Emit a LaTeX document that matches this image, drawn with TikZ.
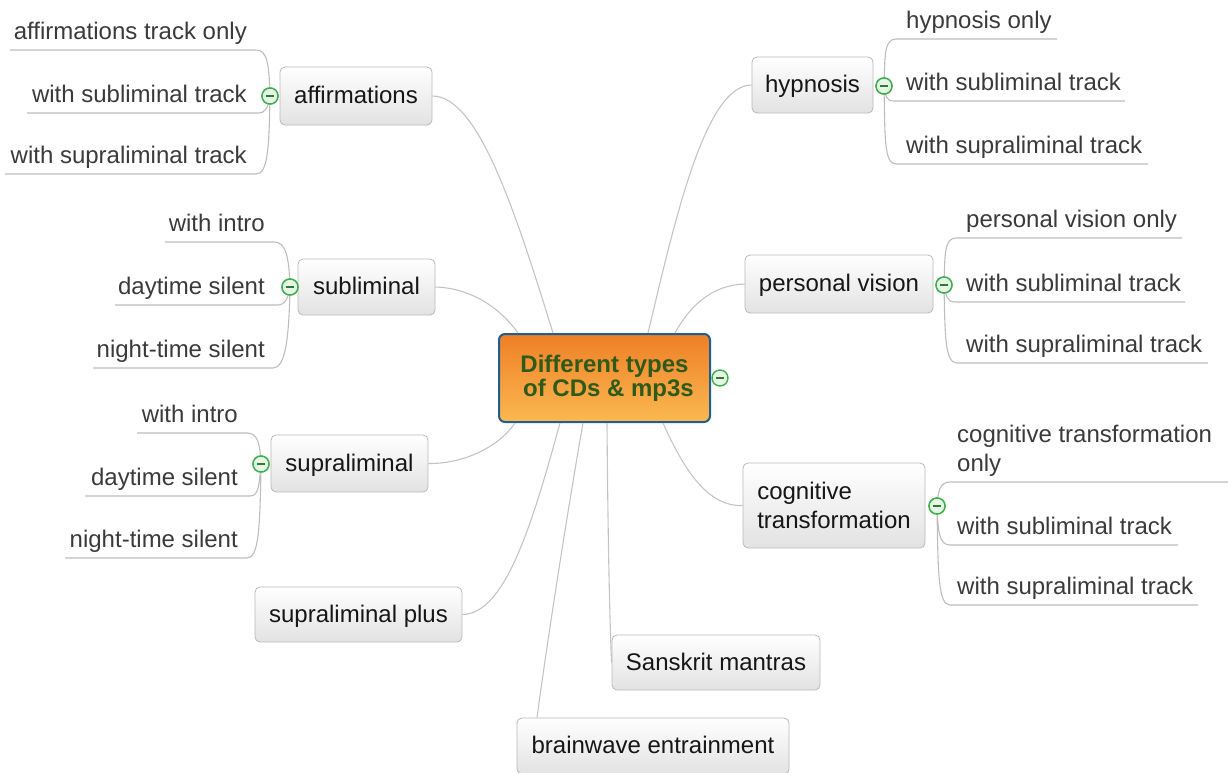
\documentclass[tikz,border=0pt]{standalone}
\usepackage{fontspec}
\setmainfont{Liberation Sans}
\usetikzlibrary{calc}
\definecolor{conncol}{HTML}{C4C4C4}
\definecolor{branchcol}{HTML}{BDBDBD}
\definecolor{topicborder}{HTML}{B9B9B9}
\definecolor{topicbot}{HTML}{E2E2E2}
\definecolor{topictext}{HTML}{161616}
\definecolor{leaftext}{HTML}{3A3A3A}
\definecolor{ctrtop}{HTML}{EF7F26}
\definecolor{ctrbot}{HTML}{FAB850}
\definecolor{ctrborder}{HTML}{1F5E93}
\definecolor{ctrtext}{HTML}{2E5A1A}
\definecolor{togglecol}{HTML}{3DB04A}
\definecolor{togglefill}{HTML}{E6F6E6}
\definecolor{togglebar}{HTML}{2C7A33}
\tikzset{
  topic/.style={draw=topicborder, rounded corners=5pt, top color=white, bottom color=topicbot,
    line width=0.8pt, text=topictext, font=\fontsize{24}{29}\selectfont, inner sep=0pt},
  oneline/.style={text height=18pt, text depth=3pt},
  leaf/.style={text=leaftext, font=\fontsize{24}{29}\selectfont, inner sep=0pt},
  conn/.style={draw=conncol, line width=1.1pt},
  branch/.style={draw=branchcol, line width=1.1pt},
  toggle/.style={circle, draw=togglecol, fill=togglefill, line width=1.4pt, minimum size=16pt, inner sep=0pt,
    path picture={\draw[togglebar, line width=2.4pt] ($(path picture bounding box.center)+(-4,0)$) -- ++(8,0);}},
}
\begin{document}
\begin{tikzpicture}[x=1pt,y=-1pt]
\useasboundingbox (0,0) rectangle (1228,772);
\clip (0,0) rectangle (1228,772);

% ---------- central node ----------
\node[draw=ctrborder, line width=2pt, rounded corners=6pt, top color=ctrtop, bottom color=ctrbot,
  minimum width=211pt, minimum height=88pt, inner sep=0pt, align=center, text=ctrtext,
  font=\fontsize{24}{24}\bfseries] (ctr) at (604.5,378) {Different types\\ \,\,of CDs \& mp3s};

% ---------- topic nodes ----------
\node[topic, oneline, minimum width=152pt, minimum height=58pt] (affir) at (356,96) {affirmations};
\node[topic, oneline, minimum width=137pt, minimum height=56pt] (sub) at (366.5,287) {subliminal};
\node[topic, oneline, minimum width=157pt, minimum height=57pt] (supra) at (349.5,463.5) {supraliminal};
\node[topic, oneline, minimum width=207pt, minimum height=55pt] (plus) at (358.5,614.5) {supraliminal plus};
\node[topic, oneline, minimum width=121pt, minimum height=56pt] (hyp) at (812.5,85) {hypnosis};
\node[topic, oneline, minimum width=188pt, minimum height=58pt] (pv) at (839,284) {personal vision};
\node[topic, minimum width=182pt, minimum height=85pt, align=left] (cog) at (834,505.5) {cognitive\\transformation};
\node[topic, oneline, minimum width=208pt, minimum height=55pt] (sans) at (716,662.5) {Sanskrit mantras};
\node[topic, oneline, minimum width=272pt, minimum height=56pt] (brain) at (653,746) {brainwave entrainment};

% ---------- central connectors ----------
\draw[conn] (ctr.north -| 553,0) .. controls (515,210) and (478,96) .. (affir.east);
\draw[conn] (ctr.north -| 518,0) .. controls (498,305) and (468,288) .. (sub.east);
\draw[conn] (ctr.south -| 515,0) .. controls (498,448) and (462,464) .. (supra.east);
\draw[conn] (ctr.south -| 560,0) .. controls (532,525) and (505,614) .. (plus.east);
\draw[conn] (ctr.south -| 583,0) .. controls (566,520) and (546,650) .. (brain.north -| 537,0);
\draw[conn] (ctr.south -| 607,0) .. controls (608,550) and (610,630) .. (sans.west);
\draw[conn] (ctr.north -| 648,0) .. controls (675,220) and (705,85) .. (hyp.west);
\draw[conn] (ctr.north -| 675,0) .. controls (692,302) and (715,285) .. (pv.west);
\draw[conn] (ctr.south -| 663,0) .. controls (684,470) and (708,507) .. (cog.west);

% ---------- leaves: affirmations ----------
\node[leaf, anchor=base east] (a1) at (247,39) {affirmations track only};
\node[leaf, anchor=base east] (a2) at (247,102) {with subliminal track};
\node[leaf, anchor=base east] (a3) at (247,163) {with supraliminal track};
\coordinate (a1s) at (256,50); \coordinate (a1e) at (10,50);
\coordinate (a2s) at (258,113); \coordinate (a2e) at (27,113);
\coordinate (a3s) at (256,174); \coordinate (a3e) at (5,174);
\node[toggle] (ta) at (270,96) {};
\draw[branch] (ta.center) .. controls +(-1,-30) and +(12,0) .. (a1s) -- (a1e);
\draw[branch] (ta.center) .. controls +(-2,11) and +(8,0) .. (a2s) -- (a2e);
\draw[branch] (ta.center) .. controls +(-1,52) and +(12,0) .. (a3s) -- (a3e);
\node[toggle] at (ta) {};

% ---------- leaves: subliminal ----------
\node[leaf, anchor=base east] (s1) at (265,231) {with intro};
\node[leaf, anchor=base east] (s2) at (265,294) {daytime silent};
\node[leaf, anchor=base east] (s3) at (265,357) {night-time silent};
\coordinate (s1s) at (274,242); \coordinate (s1e) at (165,242);
\coordinate (s2s) at (277,305); \coordinate (s2e) at (115,305);
\coordinate (s3s) at (273,368); \coordinate (s3e) at (93,368);
\node[toggle] (ts) at (290,287) {};
\draw[branch] (ts.center) .. controls +(-1,-30) and +(12,0) .. (s1s) -- (s1e);
\draw[branch] (ts.center) .. controls +(-2,12) and +(8,0) .. (s2s) -- (s2e);
\draw[branch] (ts.center) .. controls +(-1,54) and +(12,0) .. (s3s) -- (s3e);
\node[toggle] at (ts) {};

% ---------- leaves: supraliminal ----------
\node[leaf, anchor=base east] (p1) at (238,422) {with intro};
\node[leaf, anchor=base east] (p2) at (238,485) {daytime silent};
\node[leaf, anchor=base east] (p3) at (238,547) {night-time silent};
\coordinate (p1s) at (247,433); \coordinate (p1e) at (137,433);
\coordinate (p2s) at (250,496); \coordinate (p2e) at (85,496);
\coordinate (p3s) at (247,558); \coordinate (p3e) at (65,558);
\node[toggle] (tp) at (261,464) {};
\draw[branch] (tp.center) .. controls +(-1,-20) and +(11,0) .. (p1s) -- (p1e);
\draw[branch] (tp.center) .. controls +(-2,21) and +(9,0) .. (p2s) -- (p2e);
\draw[branch] (tp.center) .. controls +(-1,63) and +(12,0) .. (p3s) -- (p3e);
\node[toggle] at (tp) {};

% ---------- leaves: hypnosis ----------
\node[leaf, anchor=base west] (h1) at (906,28) {hypnosis only};
\node[leaf, anchor=base west] (h2) at (906,90) {with subliminal track};
\node[leaf, anchor=base west] (h3) at (906,153) {with supraliminal track};
\coordinate (h1s) at (896,39); \coordinate (h1e) at (1057,39);
\coordinate (h2s) at (894,101); \coordinate (h2e) at (1125,101);
\coordinate (h3s) at (896,164); \coordinate (h3e) at (1148,164);
\node[toggle] (th) at (884,86) {};
\draw[branch] (th.center) .. controls +(1,-30) and +(-12,0) .. (h1s) -- (h1e);
\draw[branch] (th.center) .. controls +(2,10) and +(-8,0) .. (h2s) -- (h2e);
\draw[branch] (th.center) .. controls +(1,52) and +(-12,0) .. (h3s) -- (h3e);
\node[toggle] at (th) {};

% ---------- leaves: personal vision ----------
\node[leaf, anchor=base west] (v1) at (966,227) {personal vision only};
\node[leaf, anchor=base west] (v2) at (966,291) {with subliminal track};
\node[leaf, anchor=base west] (v3) at (966,352) {with supraliminal track};
\coordinate (v1s) at (956,238); \coordinate (v1e) at (1182,238);
\coordinate (v2s) at (955,302); \coordinate (v2e) at (1185,302);
\coordinate (v3s) at (957,363); \coordinate (v3e) at (1208,363);
\node[toggle] (tv) at (944,285) {};
\draw[branch] (tv.center) .. controls +(1,-30) and +(-12,0) .. (v1s) -- (v1e);
\draw[branch] (tv.center) .. controls +(2,11) and +(-8,0) .. (v2s) -- (v2e);
\draw[branch] (tv.center) .. controls +(1,52) and +(-12,0) .. (v3s) -- (v3e);
\node[toggle] at (tv) {};

% ---------- leaves: cognitive transformation ----------
\node[leaf, anchor=west, align=left] (g1) at (957,451) {cognitive transformation\\only};
\node[leaf, anchor=base west] (g2) at (957,534) {with subliminal track};
\node[leaf, anchor=base west] (g3) at (957,594) {with supraliminal track};
\coordinate (g1s) at (950,482); \coordinate (g1e) at (1228,482);
\coordinate (g2s) at (950,545); \coordinate (g2e) at (1178,545);
\coordinate (g3s) at (950,605); \coordinate (g3e) at (1198,605);
\node[toggle] (tg) at (937,506) {};
\draw[branch] (tg.center) .. controls +(1,-15) and +(-10,0) .. (g1s) -- (g1e);
\draw[branch] (tg.center) .. controls +(1,25) and +(-11,0) .. (g2s) -- (g2e);
\draw[branch] (tg.center) .. controls +(1,66) and +(-12,0) .. (g3s) -- (g3e);
\node[toggle] at (tg) {};

% ---------- central toggle ----------
\node[toggle] (tc) at (720,378) {};
\end{tikzpicture}
\end{document}
